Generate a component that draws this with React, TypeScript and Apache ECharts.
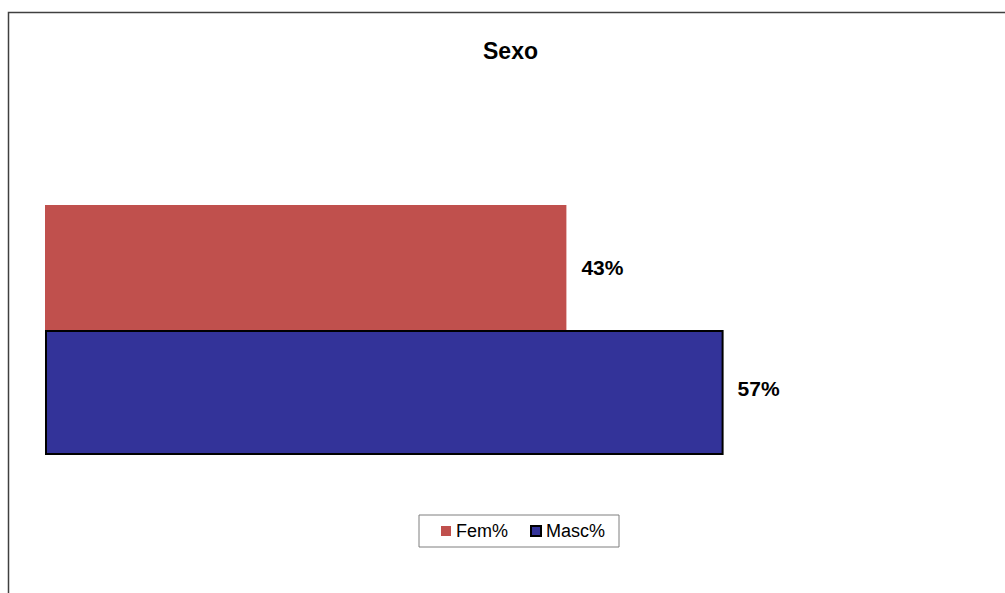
import React, { useEffect, useRef } from "react";
import * as echarts from "echarts";

const categories = ["Sexo"];
const seriesNames = ["Fem%", "Masc%"];
const femValues = [43.45];
const mascValues = [56.55];
const titleText = "Sexo";

const FONT = "'Liberation Sans', Arial, sans-serif";

export default function App() {
  const ref = useRef<HTMLDivElement>(null);
  useEffect(() => {
    if (!ref.current) return;
    const chart = echarts.init(ref.current, undefined, { renderer: "svg" });
    const labelBase = {
      show: true,
      position: "right",
      distance: 15,
      formatter: (p: any) => Math.round(p.value) + "%",
      fontFamily: FONT,
      fontSize: 21,
      fontWeight: "bold",
      color: "#000",
    };
    chart.setOption({
      animation: false,
      backgroundColor: "#fff",
      title: {
        text: titleText,
        left: 483,
        top: 39,
        padding: 0,
        textStyle: { fontFamily: FONT, fontSize: 23, fontWeight: "bold", color: "#000" },
      },
      legend: {
        data: seriesNames,
        left: 419,
        top: 515,
        padding: [7, 14, 7, 22],
        itemGap: 22,
        itemWidth: 10,
        itemHeight: 10,
        borderColor: "#7f7f7f",
        borderWidth: 1,
        icon: "rect",
        textStyle: { fontFamily: FONT, fontSize: 18, color: "#000" },
      },
      grid: { left: 45, top: 205, width: 961, height: 250, containLabel: false },
      xAxis: { type: "value", min: 0, max: 80, show: false },
      yAxis: { type: "category", data: categories, show: false, inverse: true },
      graphic: [
        {
          type: "rect",
          shape: { x: 8.5, y: 12.5, width: 1100, height: 700 },
          style: { fill: "none", stroke: "#404040", lineWidth: 1.5 },
          silent: true,
        },
      ],
      series: [
        {
          name: seriesNames[0],
          type: "bar",
          data: femValues,
          barGap: "0%",
          barCategoryGap: "0%",
          itemStyle: { color: "#C0504D" },
          label: labelBase,
        },
        {
          name: seriesNames[1],
          type: "bar",
          data: mascValues,
          barGap: "0%",
          barCategoryGap: "0%",
          itemStyle: { color: "#333399", borderColor: "#000", borderWidth: 2 },
          label: { ...labelBase, distance: 14, offset: [0, -4] },
        },
      ],
    });
    return () => chart.dispose();
  }, []);
  return (
    <div
      ref={ref}
      style={{ position: "absolute", left: 0, top: 0, width: 1005, height: 593 }}
    />
  );
}
